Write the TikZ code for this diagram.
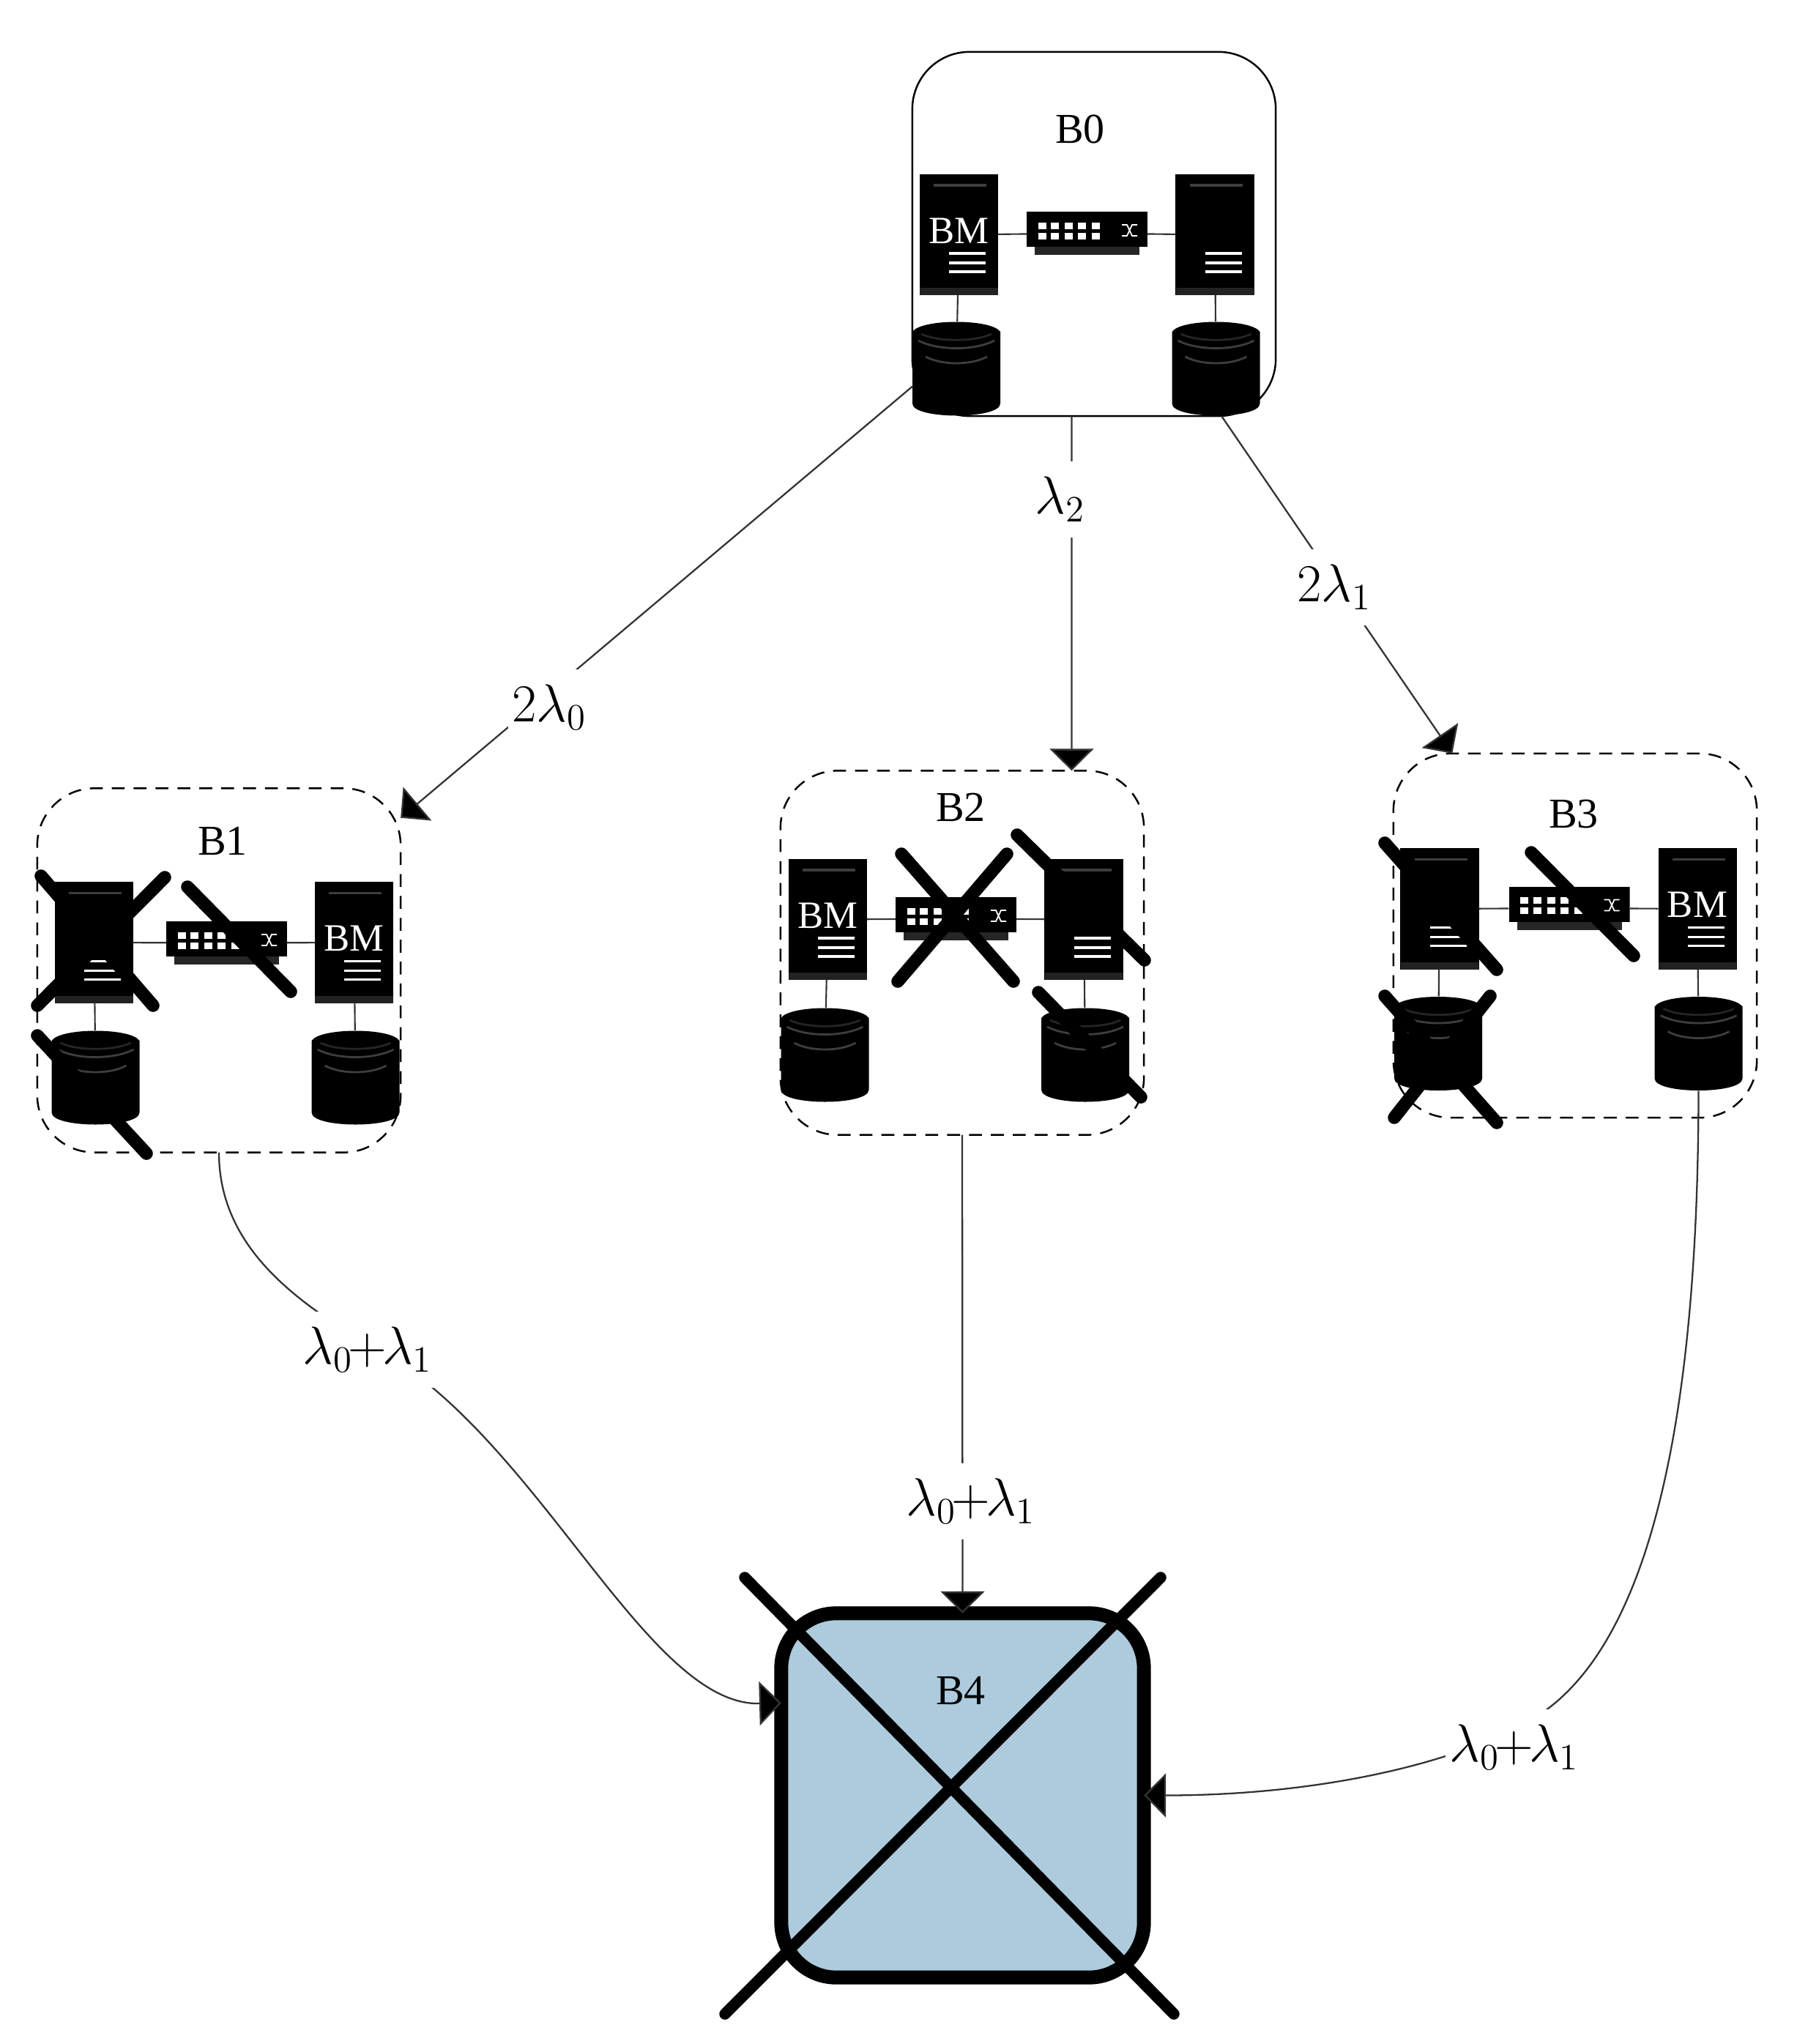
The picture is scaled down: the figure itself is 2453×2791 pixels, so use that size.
\documentclass[tikz,border=0pt]{standalone}
\usepackage{fontspec}
\setmainfont{Liberation Serif}
\usepackage{amsmath}
\usetikzlibrary{arrows.meta}
\definecolor{bleub}{RGB}{173,203,221}
\definecolor{grisd}{RGB}{62,62,62}
\newcommand{\lamsum}{$\lambda_0\mkern-1.5mu{+}\mkern-1.5mu\lambda_1$}
\tikzset{
  boite/.style={rectangle, rounded corners=0.78cm, draw=black, line width=0.7pt, minimum width=4.96cm,
                minimum height=4.97cm, inner sep=0pt, outer sep=0pt},
  bpan/.style={boite, dash pattern=on 5pt off 3.5pt},
  titre/.style={font=\fontsize{16.5}{18}\selectfont, inner sep=0pt},
  etiq/.style={fill=white, font=\fontsize{20}{24}\selectfont, inner xsep=1.5pt, inner ysep=0pt, minimum height=1.04cm},
  bm/.style={label={[text=white, font=\fontsize{15}{16}\selectfont, inner sep=0pt, yshift=1.5pt]center:BM}},
  srv/.style={rectangle, fill=black, minimum width=1.07cm, minimum height=1.65cm, inner sep=0pt, outer sep=0pt,
    path picture={
      \fill[grisd!55!black] (-53.5,72.5) rectangle (53.5,82.5);
      \draw[grisd, line width=1pt] (-34.5,-67.5) -- (37.5,-67.5);
      \draw[white, line width=0.9pt] (-13.5,25.5) -- (36.5,25.5) (-13.5,38.5) -- (36.5,38.5) (-13.5,50.5) -- (36.5,50.5);
    }},
  dsk/.style={rectangle, minimum width=1.2cm, minimum height=1.29cm, inner sep=0pt, outer sep=0pt,
    path picture={
      \fill[black] (-60,-50.5) .. controls (-48,-68.5) and (48,-68.5) .. (60,-50.5) -- (60,47.5)
        .. controls (60,69.5) and (-60,69.5) .. (-60,47.5) -- cycle;
      \draw[grisd, line width=0.8pt] (-52,-38.5) .. controls (-25,-24.5) and (25,-24.5) .. (52,-38.5);
      \draw[grisd, line width=0.8pt] (-42,-16.5) .. controls (-20,-4.5) and (20,-4.5) .. (42,-16.5);
      \draw[grisd!60!black, line width=0.8pt] (-48,-47.5) .. controls (-25,-36.5) and (25,-36.5) .. (48,-47.5);
    }},
  comm/.style={rectangle, minimum width=1.65cm, minimum height=0.59cm, inner sep=0pt, outer sep=0pt,
    path picture={
      \fill[black] (-82.5,-29.5) rectangle (82.5,18.5);
      \fill[black!85] (-71.5,18.5) rectangle (71.5,29.5);
      \foreach \px in {-61.5,-44,-25,-7,12}
        \foreach \py in {-10.5,3.5}
          \fill[white] (\px-5.5,\py-4.5) rectangle ++(11,9);
      \draw[white, line width=0.5pt] (47.5,-11.5) -- (54.5,-11.5) -- (61.5,3.5) -- (68.5,3.5) (47.5,3.5) -- (54.5,3.5) -- (61.5,-11.5) -- (68.5,-11.5);
    }},
  lien/.style={draw=black!80, line width=0.6pt},
  cnx/.style={draw=black!80, line width=0.65pt},
  fleche/.style={cnx, -{Triangle[length=8.5pt, width=17pt, fill=black]}},
  croix/.style={line width=5pt, line cap=round}
}
\begin{document}
\begin{tikzpicture}[x=0.01cm, y=-0.01cm]
\useasboundingbox (0,0) rectangle (2453,2791);

\node[boite] (b0) at (1494,319.5) {};
\node[bpan] (b1) at (299,1325) {};
\node[bpan] (b2) at (1314,1301) {};
\node[bpan] (b3) at (2151,1277.5) {};
\node[boite, fill=bleub, line width=5.4pt, rounded corners=0.75cm, minimum width=4.95cm] (b4) at (1314.5,2451.5) {};

\node[titre] (t0) at (1475,176) {B0};
\node[titre] (t1) at (304,1148) {B1};
\node[titre] (t2) at (1312,1102) {B2};
\node[titre] (t3) at (2149,1112) {B3};
\node[titre] (t4) at (1312,2308) {B4};

\node[srv, bm] (s01) at (1309.5,320.5) {};
\node[srv] (s02) at (1659,320.5) {};
\node[comm] (c0) at (1484.5,318.5) {};
\node[dsk] (d01) at (1306,503.5) {};
\node[dsk] (d02) at (1660.5,503.5) {};
\draw[lien] (s01) -- (c0) (c0) -- (s02) (s01) -- (d01) (s02) -- (d02);

\node[srv] (s11) at (128.5,1287) {};
\node[srv, bm] (s12) at (483.5,1287) {};
\node[comm] (c1) at (309.5,1287.5) {};
\node[dsk] (d11) at (130.5,1471.5) {};
\node[dsk] (d12) at (485.5,1471.5) {};
\draw[lien] (s11) -- (c1) (c1) -- (s12) (s11) -- (d11) (s12) -- (d12);

\node[srv, bm] (s21) at (1130.5,1255.5) {};
\node[srv] (s22) at (1480,1255.5) {};
\node[comm] (c2) at (1305.5,1254.5) {};
\node[dsk] (d21) at (1126.5,1440.5) {};
\node[dsk] (d22) at (1482,1440.5) {};
\draw[lien] (s21) -- (c2) (c2) -- (s22) (s21) -- (d21) (s22) -- (d22);

\node[srv] (s31) at (1966,1241) {};
\node[srv, bm] (s32) at (2318,1241) {};
\node[comm] (c3) at (2143,1240) {};
\node[dsk] (d31) at (1964,1425) {};
\node[dsk] (d32) at (2319.5,1425) {};
\draw[lien] (s31) -- (c3) (c3) -- (s32) (s31) -- (d31) (s32) -- (d32);

\draw[fleche] (b0.220) -- (b1.40);
\draw[fleche] (b0.-97.1) -- (b2.59.1);
\draw[fleche] (b0.-55.3) -- (b3.124.2);
\draw[fleche] (b1.south) .. controls (299,1700) and (400,1775) .. (502,1835)
  .. controls (730,1950) and (880,2330) .. (b4.153.1);
\draw[fleche] (b2.south) -- (b4.north);
\draw[fleche] (d32.south) .. controls (2319,1950) and (2250,2230) .. (2114,2333)
  .. controls (2020,2400) and (1820,2451.5) .. (b4.east);

\node[etiq] (e1) at (750,966) {$2\lambda_0$};
\node[etiq] (e2) at (1448,682) {$\lambda_2$};
\node[etiq] (e3) at (1822,802) {$2\lambda_1$};
\node[etiq] (e4) at (502,1843) {\lamsum};
\node[etiq] (e5) at (1326,2050) {\lamsum};
\node[etiq] (e6) at (2068,2386) {\lamsum};

\draw[croix] (56,1196) -- (209,1373);
\draw[croix] (225,1198) -- (51,1373);
\draw[croix] (256,1211) -- (397,1354);
\draw[croix] (51,1414) -- (200,1575);

\draw[croix] (1231,1166) -- (1384,1340);
\draw[croix] (1375,1166) -- (1226,1340);
\draw[croix] (1389,1140) -- (1563,1311);
\draw[croix] (1418,1355) -- (1558,1498);

\draw[croix] (1891,1151) -- (2044,1324);
\draw[croix] (2091,1164) -- (2231,1305);
\draw[croix] (1891,1360) -- (2044,1533);
\draw[croix] (2035,1360) -- (1904,1526);

\draw[croix, line width=4.4pt] (1017,2154) -- (1603,2750);
\draw[croix, line width=4.4pt] (1585,2154) -- (990,2750);
\end{tikzpicture}
\end{document}
